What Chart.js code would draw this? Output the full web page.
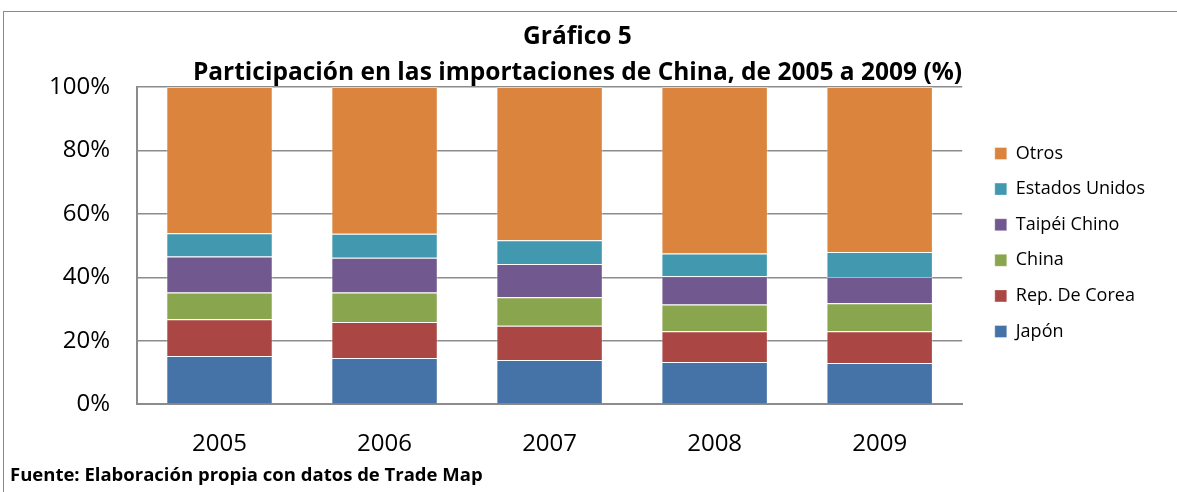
<!DOCTYPE html>
<html lang="es">
<head>
  <meta charset="UTF-8">
  <title>Gráfico 5</title>
  <script src="https://cdn.jsdelivr.net/npm/chart.js"></script>
<style>
body {
    margin: 0;
    background: #ffffff;
    font-family: "Open Sans", sans-serif;
}
.marco {
    position: absolute;
    left: 3px;
    top: 11px;
    width: 1200px;
    height: 500px;
    border-left: 1px solid #8a8a8a;
    border-top: 1px solid #8a8a8a;
}
.grafico {
    position: absolute;
    left: 0;
    top: 0;
    width: 1177px;
    height: 492px;
}
.fuente {
    position: absolute;
    left: 10px;
    top: 461px;
    font-size: 18.5px;
    font-weight: bold;
    color: #000;
}
</style>
</head>
<body>
  <div class="marco"></div>
  <div class="grafico">
    <canvas id="chart"></canvas>
  </div>
  <div class="fuente">Fuente: Elaboración propia con datos de Trade Map</div>
  <script>
    // datos (%)
    var anios = ["2005", "2006", "2007", "2008", "2009"];
    var japon = [15.2, 14.6, 13.9, 13.3, 13.0];
    var corea = [11.6, 11.3, 10.8, 9.7, 10.0];
    var china = [8.4, 9.3, 9.0, 8.4, 8.8];
    var taipei = [11.4, 11.0, 10.5, 8.9, 8.3];
    var eeuu = [7.3, 7.5, 7.5, 7.2, 7.9];
    var otros = [46.1, 46.3, 48.3, 52.5, 52.0];
    var ticksY = [0, 20, 40, 60, 80, 100];

    var ctx = document.getElementById("chart").getContext("2d");

    function serie(nombre, datos, color) {
      return {
        label: nombre,
        data: datos,
        backgroundColor: color,
        borderColor: "rgba(255,255,255,0.35)",
        borderWidth: 1,
        categoryPercentage: 1,
        barPercentage: 0.645
      };
    }

    var chart = new Chart(ctx, {
      type: "bar",
      data: {
        labels: anios,
        datasets: [
          serie("Japón", japon, "#4572A7"),
          serie("Rep. De Corea", corea, "#AA4643"),
          serie("China", china, "#89A54E"),
          serie("Taipéi Chino", taipei, "#71588F"),
          serie("Estados Unidos", eeuu, "#4198AF"),
          serie("Otros", otros, "#DB843D")
        ]
      },
      options: {
        responsive: true,
        maintainAspectRatio: false,
        animation: false,
        layout: {
          padding: { left: 0, right: 22, top: 0, bottom: 7 }
        },
        scales: {
          x: {
            stacked: true,
            grid: { display: false, drawTicks: false },
            border: { display: true, color: "#8c8c8c", width: 2 },
            ticks: {
              color: "#000",
              padding: 26,
              font: { family: "Open Sans", size: 24 }
            }
          },
          y: {
            stacked: true,
            min: 0,
            max: 100,
            afterBuildTicks: function(axis) {
              axis.ticks = ticksY.map(function(v) { return { value: v }; });
            },
            afterFit: function(axis) {
              axis.width = 137;
            },
            grid: { color: "#8c8c8c", lineWidth: 1.5, drawTicks: false },
            border: { display: true, color: "#8c8c8c", width: 2 },
            ticks: {
              color: "#000",
              padding: 27,
              font: { family: "Open Sans", size: 24 },
              callback: function(v) { return v + "%"; }
            }
          },
          // eje vacío para separar la leyenda del área del gráfico
          hueco: {
            type: "linear",
            position: "right",
            display: true,
            grid: { display: false, drawTicks: false },
            border: { display: false },
            ticks: { display: false },
            afterFit: function(axis) {
              axis.width = 15;
            }
          }
        },
        plugins: {
          legend: {
            position: "right",
            reverse: true,
            labels: {
              color: "#000",
              boxWidth: 12,
              boxHeight: 12,
              padding: 17.6,
              font: { family: "Open Sans", size: 18 }
            }
          },
          title: {
            display: true,
            text: ["Gráfico 5", "Participación en las importaciones de China, de 2005 a 2009 (%)"],
            color: "#000",
            font: { family: "Open Sans", size: 24.5, weight: "bold", lineHeight: "36px" },
            padding: { top: 19, bottom: -4 }
          },
          tooltip: { enabled: false }
        }
      }
    });
  </script>
</body>
</html>
